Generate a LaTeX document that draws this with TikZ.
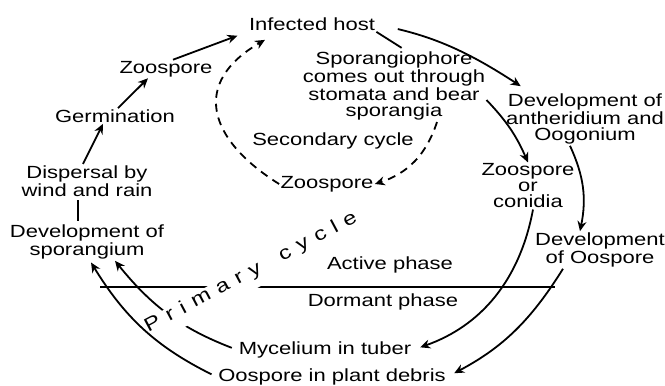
\documentclass[tikz,border=0pt]{standalone}
\usepackage{fontspec}
\setmainfont{Liberation Sans}[FakeStretch=1.25]
\usetikzlibrary{arrows.meta}

\tikzset{
  stage/.style={align=center, inner sep=0.5pt},
  flow/.style={-{Stealth[length=5pt, width=4.5pt]}, line width=0.9pt},
  linkline/.style={line width=0.9pt},
  dashflow/.style={flow, dash pattern=on 4pt off 3pt},
  cycleletter/.style={rotate=28.07, anchor=base west, inner sep=0pt,
    font=\fontsize{9.5}{9.5}\selectfont},
}

\begin{document}
\begin{tikzpicture}[x=0.5pt, y=0.5pt, font=\fontsize{8.8}{8}\selectfont]
  \useasboundingbox (0,0) rectangle (665,386);

  % stages
  \node[stage] (host)   at (312,362) {Infected host};
  \node[stage] (spgph)  at (394,300) {Sporangiophore\\comes out through\\stomata and bear\\sporangia};
  \node[stage] (sec)    at (333,245) {Secondary cycle};
  \node[stage] (zooin)  at (327,202) {Zoospore};
  \node[stage] (zoo)    at (166,317) {Zoospore};
  \node[stage] (germ)   at (115,270) {Germination};
  \node[stage] (disp)   at (87,205)  {Dispersal by\\wind and rain};
  \node[stage] (spor)   at (87,144)  {Development of\\sporangium};
  \node[stage] (anth)   at (585,267) {Development of\\antheridium and\\Oogonium};
  \node[stage] (conid)  at (528,200) {Zoospore\\or\\conidia};
  \node[stage] (oosp)   at (600,136) {Development\\of Oospore};
  \node[stage] (active) at (390,121) {Active phase};
  \node[stage] (dorm)   at (383,84)  {Dormant phase};
  \node[stage] (myc)    at (325,36)  {Mycelium in tuber};
  \node[stage] (debris) at (332,9)   {Oospore in plant debris};

  % primary cycle
  \draw[linkline, shorten <=1pt, shorten >=1pt] ([xshift=-4.5pt]disp.south) -- ([xshift=-4.5pt]spor.north);
  \draw[flow] ([xshift=-2pt]disp.north) -- ([xshift=-6pt]germ.south);
  \draw[flow] ([xshift=1.5pt]germ.north) -- ([xshift=-9pt]zoo.south);
  \draw[flow, shorten >=5.5pt] ([xshift=3.5pt]zoo.north) -- (host.south west);
  \draw[flow, shorten <=11pt] (host.east) to[bend left=10] ([xshift=8pt, yshift=3pt]anth.north west);
  \draw[flow] ([xshift=-7.5pt]anth.south) to[bend left=18] ([xshift=-10pt]oosp.north);
  \draw[flow, shorten >=4pt] ([xshift=-18.5pt]oosp.south) to[bend left=15] (debris.east);
  \draw[flow, shorten <=3pt, shorten >=1pt] (debris.west) to[bend left=16] ([xshift=1.5pt]spor.south);
  \draw[flow, shorten <=3pt] (myc.west) to[bend left=15] ([xshift=14pt]spor.south);
  \draw[flow, shorten >=4pt] ([xshift=2.5pt]conid.south) to[bend left=30] (myc.east);
  \draw[flow] ([yshift=-7pt]spgph.east) to[bend left=10] (conid.north);
  \draw[linkline, shorten >=2pt] (host.south east) -- ([xshift=5.5pt]spgph.north);

  % secondary cycle
  \draw[dashflow] ([xshift=21.5pt]spgph.south) to[bend left=27] (zooin.east);
  \draw[dashflow] (zooin.west) to[out=148, in=210, looseness=1.5] ([xshift=-23.5pt, yshift=-4pt]host.south);

  % active / dormant divide
  \draw[linkline] (100,99) -- (555,99);
  \draw[white, line width=12.5pt] (164.8,62.5) -- (269.8,119);
  \foreach \ch/\s [count=\i] in {P/0, r/23.75, i/39.6, m/52.85, a/80.6, r/101.75,
      y/117.6, c/152, y/171.85, c/191.7, l/211.55, e/224.8}
    \path (148,53) ++(28.07:\s) node[cycleletter] (pc\i) {\ch};
\end{tikzpicture}
\end{document}
